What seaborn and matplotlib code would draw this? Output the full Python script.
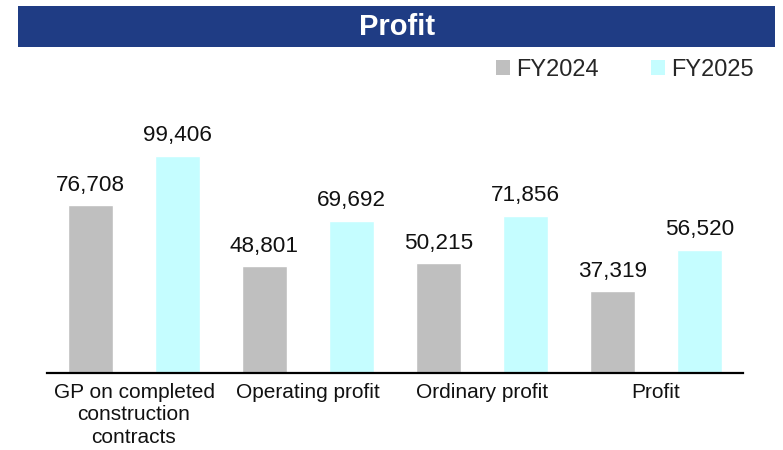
import matplotlib
matplotlib.use("Agg")
import matplotlib.pyplot as plt
import seaborn as sns
import pandas as pd
from matplotlib.patches import Rectangle

categories = ["GP on completed\nconstruction\ncontracts", "Operating profit", "Ordinary profit", "Profit"]
series_names = ["FY2024", "FY2025"]
fy2024 = [76708, 48801, 50215, 37319]
fy2025 = [99406, 69692, 71856, 56520]
title = "Profit"

df = pd.DataFrame({
    "category": categories * 2,
    "year": [series_names[0]] * 4 + [series_names[1]] * 4,
    "value": fy2024 + fy2025,
})

sns.set_theme(style="white")
plt.rcParams["font.family"] = ["Liberation Sans", "DejaVu Sans"]

fig = plt.figure(figsize=(7.83, 4.5), dpi=100)
ax = fig.add_axes([47 / 783, 77 / 450, 696 / 783, 273 / 450])

palette = {"FY2024": "#BFBFBF", "FY2025": "#C5FDFF"}
sns.barplot(data=df, x="category", y="value", hue="year", order=categories,
            hue_order=series_names, palette=palette, width=1.0, gap=0.49,
            saturation=1, ax=ax, legend=False)

for cont in ax.containers:
    ax.bar_label(cont, labels=[f"{v:,.0f}" for v in cont.datavalues],
                 padding=7, fontsize=16.2, color="#111111")

ax.set_xlim(-0.5, 3.5)
ax.set_ylim(0, 125000)
ax.set_xlabel("")
ax.set_ylabel("")
ax.set_yticks([])
for s in ["left", "right", "top"]:
    ax.spines[s].set_visible(False)
ax.spines["bottom"].set_color("black")
ax.spines["bottom"].set_linewidth(1.6)
ax.tick_params(axis="x", length=0, pad=7, labelsize=15, colors="#111111")
for lab in ax.get_xticklabels():
    lab.set_linespacing(1.25)
    lab.set_verticalalignment("top")

# Title bar
fig.patches.append(Rectangle((18 / 783, 1 - 47 / 450), 757 / 783, 41 / 450,
                             transform=fig.transFigure, facecolor="#1F3C84",
                             edgecolor="none", zorder=0))
fig.text(397 / 783, 1 - 27 / 450, title, color="white", fontsize=21,
         fontweight="bold", ha="center", va="center")

# Legend
handles = [Rectangle((0, 0), 1, 1, facecolor=palette[n], edgecolor="none") for n in series_names]
fig.legend(handles, series_names, loc="center left",
           bbox_to_anchor=(496 / 783, 1 - 70 / 450), ncol=2, frameon=False,
           fontsize=17, handlelength=0.6, handleheight=0.6, handletextpad=0.25,
           columnspacing=2.2, borderpad=0, borderaxespad=0)

fig.savefig("out.png", dpi=100)
